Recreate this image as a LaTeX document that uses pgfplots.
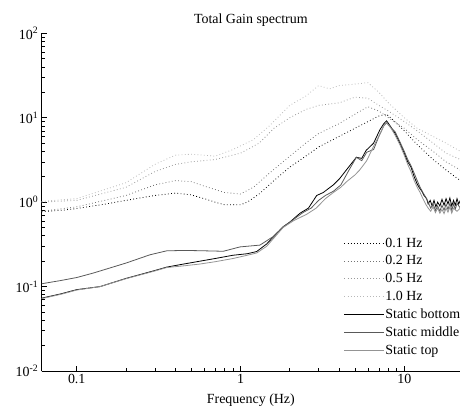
\documentclass[border=0pt]{standalone}
\usepackage{fontspec}
\setmainfont{Liberation Serif}
\usepackage{pgfplots}
\pgfplotsset{compat=1.18}
\begin{document}
\begin{tikzpicture}
\begin{axis}[
  name=ax,
  scale only axis,
  width=418.3bp, height=337.7bp,
  xmode=log, ymode=log,
  xmin=0.0611, xmax=21.9,
  ymin=0.01, ymax=100,
  axis x line=bottom, axis y line=left,
  axis line style={-, line width=0.8pt},
  tick align=inside,
  major tick length=5bp, minor tick length=3bp,
  tick style={black, line width=0.6pt},
  xtick={0.1,1,10}, xticklabels={0.1,1,10},
  ytick={0.01,0.1,1,10,100},
  yticklabels={10\textsuperscript{-2},10\textsuperscript{-1},10\textsuperscript{0},10\textsuperscript{1},10\textsuperscript{2}},
  ticklabel style={font=\fontsize{14}{16}\selectfont},
  xlabel={Frequency (Hz)},
  xlabel style={font=\fontsize{14}{16}\selectfont, at={(axis description cs:0.5,0)}, anchor=center, yshift=-29bp},
  title={Total Gain spectrum},
  title style={font=\fontsize{14}{16}\selectfont, yshift=-3bp},
  legend style={draw=none, fill=none, at={(0.722,0.398)}, anchor=north west,
    font=\fontsize{14}{16}\selectfont, row sep=5bp, inner sep=0pt,
    nodes={inner sep=1bp}},
  legend cell align=left,
  legend image code/.code={\draw[#1] (0cm,0cm) -- (1.4cm,0cm);},
  clip=true,
]
\addplot[black, line width=0.8pt, dash pattern=on 0.8pt off 2.4pt] coordinates {
(0.0611,0.77)(0.08,0.80)(0.1,0.84)(0.15,0.95)(0.2,1.05)(0.3,1.2)(0.4,1.28)(0.5,1.22)(0.6,1.1)(0.7,1.0)(0.8,0.93)(1.0,0.93)(1.1,1.0)(1.3,1.25)(1.6,1.8)(2.0,2.6)(2.5,3.5)(3.0,4.5)(4.0,6.0)(5.0,7.5)(6.0,9.0)(7.0,10.5)(7.8,11)(8.5,9.5)(10,7.0)(12,4.8)(15,3.2)(18,2.4)(22,1.8)};
\addlegendentry{0.1 Hz}
\addplot[black!55, line width=0.8pt, dash pattern=on 0.8pt off 2.4pt] coordinates {
(0.0611,0.78)(0.1,0.88)(0.2,1.2)(0.3,1.6)(0.4,1.8)(0.5,1.75)(0.6,1.55)(0.8,1.3)(1.0,1.25)(1.2,1.5)(1.5,2.2)(2.0,3.5)(2.5,5.0)(3,6.5)(4,8.5)(5,11)(6,13.5)(7,12)(8,10)(10,7.5)(12,5.5)(15,4.0)(18,3.0)(22,2.4)};
\addlegendentry{0.2 Hz}
\addplot[black!40, line width=0.8pt, dash pattern=on 0.8pt off 2.4pt] coordinates {
(0.0611,1.0)(0.1,1.05)(0.2,1.5)(0.3,2.3)(0.4,2.8)(0.5,3.0)(0.7,3.2)(1.0,3.8)(1.3,5)(1.6,7.5)(2.0,10)(2.5,12.5)(3,14)(4,15)(5,17.5)(6,17)(7,14)(8,12)(10,9)(12,7)(15,5)(18,3.8)(22,3.2)};
\addlegendentry{0.5 Hz}
\addplot[black!28, line width=0.8pt, dash pattern=on 0.8pt off 2.4pt] coordinates {
(0.0611,1.02)(0.1,1.1)(0.2,1.7)(0.3,2.8)(0.4,3.6)(0.5,3.7)(0.7,3.5)(0.9,4.2)(1.2,5.5)(1.5,8)(2.0,14)(2.5,18)(3,24)(3.5,22)(4,24)(5,25)(6,26)(7,20)(8,15)(10,10)(12,7.5)(15,6)(18,5)(22,4)};
\addlegendentry{1.0 Hz}
\addplot[black, line width=0.8pt] coordinates {
(0.0611,0.073)(0.08,0.082)(0.1,0.092)(0.139,0.100)(0.2,0.125)(0.3,0.155)(0.354,0.170)(0.45,0.185)(0.566,0.2)(0.7,0.215)(0.9,0.235)(1.1,0.245)(1.256,0.26)(1.445,0.32)(1.82,0.51)(2.0,0.58)(2.31,0.74)(2.6,0.85)(2.92,1.2)(3.2,1.3)(3.69,1.6)(4.03,1.9)(4.5,2.5)(5.1,3.4)(5.5,3.3)(5.85,4.1)(6.5,5.0)(7.1,7.2)(7.5,8.5)(7.8,9.2)(8.2,8.0)(8.8,6.5)(9.4,5.0)(10,3.8)(10.5,3.0)(11,2.6)(11.5,2.0)(11.9,1.7)(12.3,1.5)(12.8,1.35)(13.2,1.2)(13.7,1.1)(14.0,0.95)(14.4,1.05)(14.8,0.9)(15.2,1.05)(15.6,0.88)(16,1.0)(16.5,0.9)(17,1.08)(17.5,0.92)(18,1.1)(18.5,0.95)(19,1.12)(19.5,0.9)(20,1.05)(20.5,0.92)(21,1.1)(21.5,0.95)(22,1.05)};
\addlegendentry{Static bottom}
\addplot[black!65, line width=0.8pt] coordinates {
(0.0611,0.108)(0.08,0.118)(0.1,0.128)(0.126,0.1445)(0.2,0.19)(0.28,0.238)(0.354,0.265)(0.45,0.268)(0.566,0.266)(0.786,0.262)(0.993,0.295)(1.315,0.31)(1.58,0.39)(1.82,0.51)(2.1,0.62)(2.4,0.75)(2.7,0.85)(3.0,1.05)(3.3,1.2)(3.7,1.35)(4.1,1.6)(4.6,2.4)(5.1,3.4)(5.5,3.1)(5.9,3.9)(6.5,4.2)(7.0,6.0)(7.5,8.0)(7.8,8.7)(8.3,7.6)(8.8,6.8)(9.4,5.2)(10,4.0)(10.5,3.2)(11,2.7)(11.5,2.2)(12,1.8)(12.5,1.5)(13,1.3)(13.5,1.15)(14,1.0)(14.5,0.85)(15,0.95)(15.5,0.8)(16,0.9)(16.5,0.78)(17,0.92)(17.5,0.8)(18,0.95)(18.5,0.82)(19,0.97)(19.5,0.8)(20,0.95)(20.5,0.82)(21,0.97)(22,0.85)};
\addlegendentry{Static middle}
\addplot[black!42, line width=0.8pt] coordinates {
(0.0611,0.072)(0.08,0.081)(0.1,0.091)(0.139,0.1)(0.2,0.124)(0.3,0.153)(0.354,0.168)(0.45,0.176)(0.566,0.185)(0.7,0.197)(0.9,0.215)(1.1,0.235)(1.256,0.25)(1.445,0.30)(1.82,0.50)(2.1,0.6)(2.54,0.72)(2.9,0.85)(3.3,1.1)(3.69,1.3)(4.1,1.5)(4.45,1.75)(5.0,2.1)(5.34,2.4)(5.9,3.1)(6.5,4.6)(7.1,6.4)(7.5,8.0)(7.8,8.8)(8.3,7.5)(8.8,6.2)(9.4,4.8)(10,3.6)(10.5,2.8)(11,2.3)(11.5,1.8)(12,1.5)(12.5,1.3)(13,1.1)(13.5,0.95)(14,0.85)(14.5,0.78)(15,0.88)(15.5,0.75)(16,0.85)(16.5,0.74)(17,0.82)(17.5,0.73)(18,0.85)(18.5,0.76)(19,0.88)(19.5,0.74)(20,0.85)(21,0.78)(22,0.85)};
\addlegendentry{Static top}
\end{axis}
\pgfresetboundingbox
\path ([shift={(-41.7bp,-38bp)}]ax.south west) rectangle ([shift={(0bp,33.3bp)}]ax.north east);
\end{tikzpicture}
\end{document}
